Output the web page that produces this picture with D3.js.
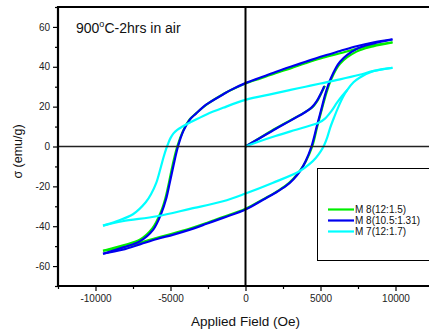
<!DOCTYPE html>
<html>
<head>
<meta charset="utf-8">
<script src="https://cdn.jsdelivr.net/npm/d3@7"></script>
<style>
  body { margin: 0; background: #fff; }
  text { font-family: "Liberation Sans", Arial, sans-serif; }
</style>
</head>
<body>
<div id="chart"></div>
<script>
// hysteresis loops, [field (Oe), sigma (emu/g)]
const seriesNames = ["M 8(12:1.5)", "M 8(10.5:1.31)", "M 7(12:1.7)"];
const seriesColors = ["#00ee00", "#0000ee", "#00ffff"];

// M 8(12:1.5)
const greenInit = [[0,0],[1000,4.5],[2000,9.0],[3000,13.2],[4000,17.4],[4500,20.0],[4800,23.0],[5100,27.5],[5300,30.5]];
const greenDesc = [[9800,52.3],[8500,50.8],[7400,49.0],[6300,46.8],[5000,44.2],[4000,41.8],[3000,39.2],[2000,36.8],[1000,34.2],[0,31.6],[-1000,28.2],[-1500,26.2],[-2600,21.0],[-3300,16.6],[-3700,13.8],[-4150,8.0],[-4550,0],[-4850,-9],[-5100,-18.0],[-5350,-26.2],[-5650,-33.0],[-6200,-41.0],[-7050,-46.8],[-8150,-49.6],[-9500,-52.3]];
const greenAsc = [[-9500,-52.3],[-8200,-50.6],[-7000,-48.2],[-5900,-45.8],[-4800,-43.6],[-3700,-41.2],[-2600,-38.4],[-1500,-35.4],[0,-31.3],[1200,-26.4],[2000,-23.0],[2700,-19.5],[3200,-16.0],[3650,-12.0],[4050,-7.0],[4450,0],[4800,10.5],[5100,19.0],[5400,27.0],[5700,33.5],[6300,41.5],[7400,47.6],[8500,50.2],[9800,52.2]];

// M 8(10.5:1.31)
const blueInit = [[0,0],[1000,4.4],[2000,8.8],[3000,13.0],[4000,17.3],[4400,19.5],[4750,22.8],[5050,27.0],[5250,30.3]];
const blueDesc = [[9800,53.8],[8500,52.2],[7400,50.3],[6300,47.9],[5000,45.0],[4000,42.5],[3000,40.0],[2000,37.4],[1000,34.6],[0,31.8],[-1000,28.3],[-1500,26.1],[-2600,21.1],[-3300,16.5],[-3700,13.6],[-4150,7.7],[-4500,0],[-4800,-9.5],[-5050,-18.2],[-5300,-26.5],[-5600,-33.3],[-6150,-41.7],[-7050,-47.6],[-8150,-50.6],[-9500,-53.8]];
const blueAsc = [[-9500,-53.8],[-8200,-51.8],[-7000,-49.0],[-5900,-46.4],[-4800,-44.2],[-3700,-41.7],[-2600,-38.8],[-1500,-35.8],[0,-31.6],[1200,-26.6],[2000,-23.2],[2700,-19.8],[3200,-16.4],[3650,-12.2],[4000,-7.5],[4400,0],[4750,10.0],[5050,18.5],[5350,27.0],[5650,33.5],[6300,42.5],[7400,48.9],[8500,51.6],[9800,53.7]];

// M 7(12:1.7)
const cyanInit = [[0,0],[1000,2.8],[2000,5.3],[3000,7.6],[4000,9.8],[4900,12.0],[5300,14.0],[5700,17.5],[6100,22.0],[6450,25.5],[6800,28.5]];
const cyanDesc = [[9800,39.5],[8500,37.8],[7600,36.0],[6300,33.7],[5000,31.6],[4000,30.0],[3000,28.4],[1800,26.4],[0,23.4],[-1500,19.4],[-2600,16.1],[-3700,12.0],[-4200,10.0],[-4550,8.4],[-4800,6.6],[-5000,4.2],[-5150,1.6],[-5300,-1.4],[-5450,-5.0],[-5650,-10.5],[-5950,-18.3],[-6300,-24.0],[-6650,-28.0],[-7500,-34.0],[-8600,-37.5],[-9500,-39.7]];
const cyanAsc = [[-9500,-39.7],[-8200,-37.5],[-5900,-35.0],[-3700,-31.3],[-1500,-27.5],[0,-23.6],[1800,-18.3],[3600,-12.4],[4300,-8.6],[4700,-5.6],[5000,-2.6],[5250,0.8],[5450,4.6],[5650,9.5],[5900,14.5],[6200,20.0],[6500,24.8],[6800,28.5],[7200,32.2],[7600,34.5],[8500,37.8],[9800,39.5]];

const seriesBranches = [
  [greenInit, greenDesc, greenAsc],
  [blueInit, blueDesc, blueAsc],
  [cyanInit, cyanDesc, cyanAsc]
];

const xMajorTicks = [-10000, -5000, 0, 5000, 10000];
const xMinorTicks = [-12500, -7500, -2500, 2500, 7500, 12500];
const yMajorTicks = [-60, -40, -20, 0, 20, 40, 60];
const yMinorTicks = [-70, -50, -30, -10, 10, 30, 50, 70];

const width = 429, height = 333;
const margin = {left: 58, top: 7, bottom: 47};

const svg = d3.select("#chart").append("svg")
  .attr("width", width)
  .attr("height", height);

const x = d3.scaleLinear().domain([-12500, 12500]).range([margin.left, margin.left + 375]);
const y = d3.scaleLinear().domain([-70, 70]).range([height - margin.bottom, margin.top]);

// curves
const line = d3.line()
  .x(d => x(d[0]))
  .y(d => y(d[1]))
  .curve(d3.curveCatmullRom.alpha(0.5));

seriesBranches.forEach((branches, i) => {
  svg.append("g")
    .selectAll("path")
    .data(branches)
    .join("path")
    .attr("d", line)
    .attr("fill", "none")
    .attr("stroke", seriesColors[i])
    .attr("stroke-width", 2.2)
    .attr("stroke-linejoin", "round");
});

// zero lines
svg.append("line")
  .attr("x1", x(-12500)).attr("x2", x(12500))
  .attr("y1", y(0)).attr("y2", y(0))
  .attr("stroke", "#222").attr("stroke-width", 1.6);
svg.append("line")
  .attr("x1", x(0)).attr("x2", x(0))
  .attr("y1", y(70)).attr("y2", y(-70))
  .attr("stroke", "#000").attr("stroke-width", 2);

// axes
const fmt = d => String(d);
svg.append("g")
  .attr("transform", `translate(${margin.left},0)`)
  .call(d3.axisLeft(y).tickValues(yMajorTicks).tickFormat(fmt).tickSize(5).tickPadding(3).tickSizeOuter(0));
svg.append("g")
  .attr("transform", `translate(${margin.left},0)`)
  .call(d3.axisLeft(y).tickValues(yMinorTicks).tickSize(3).tickFormat("").tickSizeOuter(0));

svg.append("g")
  .attr("transform", `translate(0,${y(-70)})`)
  .call(d3.axisBottom(x).tickValues(xMajorTicks).tickFormat(fmt).tickSize(5).tickPadding(4).tickSizeOuter(0));
svg.append("g")
  .attr("transform", `translate(0,${y(-70)})`)
  .call(d3.axisBottom(x).tickValues(xMinorTicks).tickSize(3).tickFormat("").tickSizeOuter(0));

svg.selectAll(".domain").remove();
svg.selectAll(".tick line").attr("stroke", "#000").attr("stroke-width", 1.2);
svg.selectAll(".tick text")
  .attr("font-family", "'Liberation Sans', Arial, sans-serif")
  .attr("font-size", 10)
  .attr("fill", "#222");

// frame
svg.append("path")
  .attr("d", `M${x(12500) + 5},${y(70)} H${x(-12500)} V${y(-70)} H${x(12500) + 5}`)
  .attr("stroke", "#000").attr("stroke-width", 2.2).attr("fill", "none");

// title
const title = svg.append("text")
  .attr("x", 76).attr("y", 33)
  .attr("font-size", 14)
  .attr("fill", "#111");
title.append("tspan").text("900");
title.append("tspan").attr("font-size", 9).attr("dy", -6).text("o");
title.append("tspan").attr("dy", 6).text("C-2hrs in air");

// axis labels
svg.append("text")
  .attr("x", x(0)).attr("y", 326)
  .attr("text-anchor", "middle")
  .attr("font-size", 13.5)
  .attr("fill", "#111")
  .text("Applied Field (Oe)");

svg.append("text")
  .attr("transform", `translate(22,${y(-2.5)}) rotate(-90)`)
  .attr("text-anchor", "middle")
  .attr("font-size", 12.5)
  .attr("fill", "#111")
  .text("σ (emu/g)");

// legend
const legend = svg.append("g");
legend.append("rect")
  .attr("x", 317.5).attr("y", 168.5)
  .attr("width", 130).attr("height", 92)
  .attr("fill", "#fff")
  .attr("stroke", "#000").attr("stroke-width", 1);

const legendItems = legend.selectAll("g.item")
  .data(seriesNames)
  .join("g")
  .attr("class", "item")
  .attr("transform", (d, i) => `translate(328,${209.5 + i * 11})`);

legendItems.append("line")
  .attr("x1", 0).attr("x2", 26)
  .attr("stroke", (d, i) => seriesColors[i])
  .attr("stroke-width", 2.2);
legendItems.append("text")
  .attr("x", 27).attr("y", 0)
  .attr("dy", "0.35em")
  .attr("font-size", 10)
  .attr("fill", "#111")
  .text(d => d);
</script>
</body>
</html>
